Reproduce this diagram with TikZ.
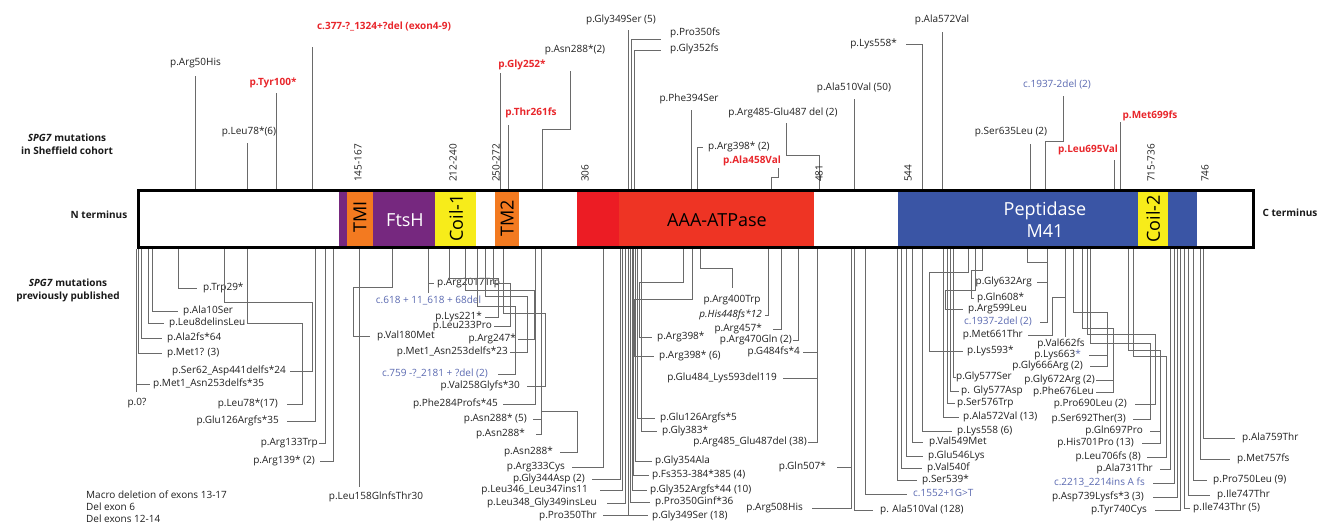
\documentclass[tikz,border=0pt]{standalone}
\usepackage{fontspec}
\setmainfont{Open Sans}
\definecolor{myred}{HTML}{E8262B}
\definecolor{myblue}{HTML}{5A69B0}
\definecolor{cgray}{HTML}{6A6A6A}
\definecolor{dpurple}{HTML}{76287F}
\definecolor{dorange}{HTML}{F37A20}
\definecolor{dyellow}{HTML}{F7EC1A}
\definecolor{dredA}{HTML}{EC1C24}
\definecolor{dredB}{HTML}{EE3424}
\definecolor{dblue}{HTML}{3A55A5}
\tikzset{
 lab/.style={font=\fontsize{10}{12}\selectfont, inner sep=0pt, text height=7.5pt, text depth=2.2pt, text=black!88},
 redlab/.style={text=myred, font=\fontsize{10}{12}\selectfont\bfseries},
 bluelab/.style={text=myblue},
 itlab/.style={font=\fontsize{10}{12}\selectfont\itshape},
 conn/.style={draw=cgray, line width=0.8pt},
 dom/.style={font=\fontsize{18}{22}\selectfont, inner sep=0pt},
 poslab/.style={font=\fontsize{10}{12}\selectfont, rotate=90, anchor=west, inner sep=0pt, text=black!88},
 side/.style={font=\fontsize{10}{13}\selectfont\bfseries, align=center, inner sep=0pt, text=black!90},
}
\newcommand\barT{189}
\newcommand\barB{249}
% top stem: name, style, xs, ye, xv, ytop, cx, cy, text
\newcommand\mutT[9]{%
  \coordinate (#1-b) at (#3,\barT);
  \coordinate (#1-t) at (#5,#6);
  \node[lab,#2] (#1) at (#7,#8) {#9};
  \draw[conn] (#1-b) -- (#3,#4) -- (#5,#4) -- (#1-t);
}
% bottom, text left: name, style, xs, ye, xv, yl, lineend, textright, text
\newcommand\mutL[9]{%
  \coordinate (#1-b) at (#3,\barB);
  \node[lab,anchor=east,#2] (#1) at (#8,#6) {#9};
  \draw[conn,shorten >=#7pt-#8pt] (#1-b) -- (#3,#4) -- (#5,#4) -- (#5,#6) -- (#1.east);
}
% bottom, text right: name, style, xs, ye, xv, yl, lineend, textleft, text
\newcommand\mutR[9]{%
  \coordinate (#1-b) at (#3,\barB);
  \node[lab,anchor=west,#2] (#1) at (#8,#6) {#9};
  \draw[conn,shorten >=#8pt-#7pt] (#1-b) -- (#3,#4) -- (#5,#4) -- (#5,#6) -- (#1.west);
}
\begin{document}
\begin{tikzpicture}[x=1pt,y=-1pt]
\useasboundingbox (0,0) rectangle (1327,523);

% ---------- side labels ----------
\node[side] (shefL) at (67,144.5) {\textit{SPG7} mutations\\in Sheffield cohort};
\node[side] (nterm) at (99,215) {N terminus};
\node[side] (pubL) at (68,290.5) {\textit{SPG7} mutations\\previously published};
\node[side] (cterm) at (1290,213) {C terminus};

% ---------- top (Sheffield cohort) ----------
\mutT{arg50}{}{195}{76}{195}{76}{195.5}{63}{p.Arg50His}
\mutT{tyr100}{redlab}{276}{93}{276}{93}{273}{83}{p.Tyr100*}
\mutT{leu78t}{}{247}{143}{247}{143}{249}{132}{p.Leu78*(6)}
\mutT{c377}{redlab}{312}{47}{312}{47}{384}{27}{c.377-?\_1324+?del (exon4-9)}
\mutT{gly252}{redlab}{500}{73}{500}{73}{522}{65}{p.Gly252*}
\mutT{thr261}{redlab}{508}{125}{508}{125}{531}{113}{p.Thr261fs}
\mutT{asn288t}{}{542}{129}{570}{71}{575}{50}{p.Asn288*(2)}
\mutT{gly349t}{}{628}{30}{628}{30}{621}{20}{p.Gly349Ser (5)}
\mutT{phe394}{}{691}{110}{691}{110}{689}{99}{p.Phe394Ser}
\mutT{ala458}{redlab}{771}{177}{778}{168}{752}{161}{p.Ala458Val}
\mutT{arg485t}{}{819}{155}{786}{123}{783}{113}{p.Arg485-Glu487 del (2)}
\mutT{ala510t}{}{854}{99}{854}{99}{854}{88}{p.Ala510Val (50)}
\mutT{ala572t}{}{942}{32}{942}{32}{942}{20}{p.Ala572Val}
\mutT{ser635}{}{1030}{144}{1030}{144}{1011}{132}{p.Ser635Leu (2)}
\mutT{c1937t}{bluelab}{1045}{141}{1063}{96}{1057}{85}{c.1937-2del (2)}
\mutT{met699}{redlab}{1120}{122}{1120}{122}{1150}{116}{p.Met699fs}
\mutT{leu695}{redlab}{1114}{160}{1114}{160}{1088}{150}{p.Leu695Val}

\coordinate (pro350-b) at (631,\barT);
\coordinate (pro350-e) at (661,39);
\node[lab,anchor=west] (pro350) at (670,33) {p.Pro350fs};
\draw[conn] (pro350-b) -- (631,39) -- (pro350-e);
\coordinate (gly352-b) at (634,\barT);
\coordinate (gly352-e) at (661,50);
\node[lab,anchor=west] (gly352) at (670,49) {p.Gly352fs};
\draw[conn] (gly352-b) -- (634,50) -- (gly352-e);
\coordinate (arg398t-b) at (697,\barT);
\node[lab,anchor=west] (arg398t) at (708,147) {p.Arg398* (2)};
\draw[conn,shorten >=5pt] (arg398t-b) -- (697,147) -- (arg398t.west);
\coordinate (lys558t-b) at (922,\barT);
\node[lab,anchor=east] (lys558t) at (897,44) {p.Lys558*};
\draw[conn,shorten >=9pt] (lys558t-b) -- (922,44) -- (lys558t.east);

% ---------- bottom, N-terminal cluster ----------
\coordinate (p0-b) at (136.5,\barB);
\coordinate (p0-e) at (136.5,392);
\node[lab] (p0) at (137,403) {p.0?};
\draw[conn] (p0-b) -- (p0-e);
\mutR{met1q}{}{138.5}{353}{138.5}{353}{162}{167}{p.Met1? (3)}
\mutR{ala2}{}{141}{338}{141}{338}{162}{167}{p.Ala2fs*64}
\mutR{leu8}{}{148}{323}{148}{323}{164}{169}{p.Leu8delinsLeu}
\mutR{ala10}{}{152}{311}{152}{311}{178}{183}{p.Ala10Ser}
\mutR{trp29}{}{178}{288}{178}{288}{197}{203}{p.Trp29*}
\mutR{met1asn35}{}{136.5}{384}{136.5}{384}{150}{153}{p.Met1\_Asn253delfs*35}
\mutL{ser62}{}{224}{302}{312}{371}{290}{286}{p.Ser62\_Asp441delfs*24}
\mutL{leu78b}{}{247}{323}{302}{404}{287}{278}{p.Leu78*(17)}
\mutL{glu126}{}{315}{421}{315}{421}{287}{279}{p.Glu126Argfs*35}
\mutL{arg133}{}{325}{443}{325}{443}{319}{318}{p.Arg133Trp}
\mutL{arg139}{}{333}{461}{333}{461}{320}{315}{p.Arg139* (2)}

\coordinate (leu158-b) at (359,\barB);
\coordinate (leu158-e) at (359,487);
\node[lab] (leu158) at (376,497) {p.Leu158GlnfsThr30};
\draw[conn] (leu158-b) -- (leu158-e);
\mutR{val180}{}{392}{287}{353}{336}{370}{377}{p.Val180Met}
\coordinate (c618-b) at (428,\barB);
\coordinate (c618-e) at (428,293);
\node[lab,bluelab] (c618) at (428.5,301) {c.618 + 11\_618 + 68del};
\draw[conn] (c618-b) -- (c618-e);
\coordinate (arg2017-j) at (428,283);
\node[lab,anchor=west] (arg2017) at (437,283) {p.Arg2017Trp};
\draw[conn,shorten >=3pt] (arg2017-j) -- (arg2017.west);
\mutL{lys221}{}{449}{278}{498}{317}{485}{482}{p.Lys221*}
\mutL{leu233}{}{493}{283}{510}{326}{494}{492}{p.Leu233Pro}
\mutL{arg247}{}{465}{290}{534}{339}{518}{516}{p.Arg247*}
\mutL{met1asn23}{}{485}{296}{527}{352}{510}{508}{p.Met1\_Asn253delfs*23}
\mutL{c759}{bluelab}{477}{306}{515}{374}{498}{488}{c.759 -?\_2181 + ?del (2)}
\mutL{val258}{}{503}{313}{545}{386}{527}{520}{p.Val258Glyfs*30}
\mutL{phe284}{}{535}{404}{535}{404}{503}{498}{p.Phe284Profs*45}
\mutL{asn288a}{}{541}{419}{541}{419}{533}{527}{p.Asn288* (5)}
\mutL{asn288b}{}{541}{434}{541}{434}{536}{525}{p.Asn288*}
\mutL{asn288c}{}{541}{411}{577}{452}{560}{553}{p.Asn288*}
\mutL{arg333}{}{603}{467}{603}{467}{572}{565}{p.Arg333Cys}
\mutL{gly344}{}{620}{479}{620}{479}{592}{585}{p.Gly344Asp (2)}
\mutL{leu346}{}{622}{490}{622}{490}{600}{588}{p.Leu346\_Leu347ins11}
\mutL{leu348}{}{625}{503}{625}{503}{607}{597}{p.Leu348\_Gly349insLeu}
\mutL{pro350t}{}{628}{515.5}{628}{515.5}{603}{597}{p.Pro350Thr}

% ---------- bottom, AAA cluster ----------
\mutR{gly349b}{}{628}{515.5}{628}{515.5}{648}{652}{p.Gly349Ser (18)}
\mutR{pro350g}{}{630}{502}{630}{502}{650}{655}{p.Pro350Ginf*36}
\mutR{gly352b}{}{632}{490}{632}{490}{647}{650}{p.Gly352Argfs*44 (10)}
\mutR{fs353}{}{633.5}{475}{633.5}{475}{649}{652}{p.Fs353-384*385 (4)}
\mutR{gly354}{}{635}{461}{635}{461}{652}{655}{p.Gly354Ala}
\mutR{gly383}{}{641}{431}{641}{431}{657}{662}{p.Gly383*}
\mutR{glu126b}{}{637}{418}{637}{418}{655}{660}{p.Glu126Argfs*5}
\mutR{arg398a}{}{683}{282}{639}{337}{652}{657}{p.Arg398*}
\mutR{arg398b}{}{692}{299}{634}{356}{654}{659}{p.Arg398* (6)}
\coordinate (arg400-b) at (700,\barB);
\coordinate (arg400-e) at (732,288);
\node[lab] (arg400) at (732,300) {p.Arg400Trp};
\draw[conn] (arg400-b) -- (700,268) -- (732,268) -- (arg400-e);
\mutL{his448}{itlab}{768}{315}{768}{315}{765}{762}{p.His448fs*12}
\mutL{arg457}{}{781}{329}{781}{329}{773}{762}{p.Arg457*}
\mutL{arg470}{}{798}{340}{798}{340}{793}{792}{p.Arg470Gln (2)}
\mutL{g484}{}{817}{352}{817}{352}{803}{800}{p.G484fs*4}
\mutL{glu484}{}{817}{378}{817}{378}{783}{777}{p.Glu484\_Lys593del119}
\mutL{arg485b}{}{817}{442}{817}{442}{808}{807}{p.Arg485\_Glu487del (38)}
\mutL{gln507}{}{851}{467}{851}{467}{837}{826}{p.Gln507*}
\mutL{arg508}{}{851}{508}{851}{508}{812}{803}{p.Arg508His}

% ---------- bottom, 510-600 ----------
\mutR{ala510b}{}{854}{510}{854}{510}{873}{880}{p. Ala510Val (128)}
\mutR{c1552}{bluelab}{865}{494}{865}{494}{907}{913}{c.1552+1G>T}
\mutR{ser539}{}{897}{480}{897}{480}{917}{922}{p.Ser539*}
\mutR{val540}{}{901}{468}{901}{468}{922}{927}{p.Val540f}
\mutR{glu546}{}{906}{456}{906}{456}{923}{928}{p.Glu546Lys}
\mutR{val549}{}{912}{442}{912}{442}{923}{929}{p.Val549Met}
\mutR{lys558b}{}{922}{431}{922}{431}{952}{957}{p.Lys558 (6)}
\mutR{ala572b}{}{943}{417}{943}{417}{959}{963}{p.Ala572Val (13)}
\mutR{ser576}{}{947}{403}{947}{403}{955}{957}{p.Ser576Trp}
\mutR{gly577d}{}{950}{391}{950}{391}{959}{961}{p. Gly577Asp}
\mutR{gly577s}{}{953}{377}{953}{377}{955.5}{956}{p.Gly577Ser}
\mutR{lys593}{}{968}{272}{929}{351}{963}{967}{p.Lys593*}
\mutR{arg599}{}{975}{290}{945}{309}{963}{968}{p.Arg599Leu}
\mutR{gln608}{}{982}{270}{971}{298}{974}{977}{p.Gln608*}

% ---------- bottom, peptidase ----------
\mutL{c1937b}{bluelab}{1047}{322}{1047}{322}{1040}{1032}{c.1937-2del (2)}
\mutL{gly632}{}{1027}{262}{1047}{282}{1037}{1032}{p.Gly632Arg}
\mutL{met661}{}{1065}{297}{1052}{335}{1028}{1023}{p.Met661Thr}
\coordinate (val662-b) at (1065,\barB);
\coordinate (val662-e) at (1065,337);
\node[lab] (val662) at (1061,344) {p.Val662fs};
\draw[conn] (val662-b) -- (val662-e);
\mutL{lys663}{}{1073}{312}{1107}{355}{1089}{1081}{p.Lys663\textcolor{myblue}{*}}
\mutL{gly666}{}{1073}{312}{1107}{366}{1090}{1083}{p.Gly666Arg (2)}
\mutL{gly672}{}{1082}{328}{1113}{380}{1096}{1095}{p.Gly672Arg (2)}
\mutL{phe676}{}{1082}{328}{1113}{392}{1096}{1094}{p.Phe676Leu}
\mutL{pro690}{}{1087}{334}{1155}{404}{1135}{1127}{p.Pro690Leu (2)}
\mutL{ser692}{}{1090}{343}{1150}{419}{1133}{1126}{p.Ser692Ther(3)}
\mutL{gln697}{}{1128}{350}{1160}{431}{1150}{1143}{p.Gln697Pro}
\mutL{his701}{}{1128}{350}{1160}{443}{1142}{1134}{p.His701Pro (13)}
\mutL{leu706}{}{1133}{356}{1166}{457}{1147}{1141}{p.Leu706fs (8)}
\mutL{ala731}{}{1170}{469}{1170}{469}{1160}{1153}{p.Ala731Thr}
\mutL{c2213}{bluelab}{1174}{483}{1174}{483}{1153}{1145}{c.2213\_2214ins A fs}
\mutL{asp739}{}{1177}{497}{1177}{497}{1153}{1144}{p.Asp739Lysfs*3 (3)}
\mutL{tyr740}{}{1180}{510}{1180}{510}{1155}{1147}{p.Tyr740Cys}
\mutR{ile743}{}{1184}{508}{1184}{508}{1190}{1193}{p.Ile743Thr (5)}
\mutR{ile747}{}{1188}{495}{1188}{495}{1210}{1217}{p.Ile747Thr}
\mutR{pro750}{}{1193}{480}{1193}{480}{1207}{1213}{p.Pro750Leu (9)}
\mutR{met757}{}{1200}{459}{1200}{459}{1230}{1237}{p.Met757fs}
\mutR{ala759}{}{1203}{438}{1203}{438}{1235}{1242}{p.Ala759Thr}

% ---------- macro deletions ----------
\node[lab,anchor=west] (macro1) at (86,496) {Macro deletion of exons 13-17};
\node[lab,anchor=west] (macro2) at (86,508) {Del exon 6};
\node[lab,anchor=west] (macro3) at (86,520) {Del exons 12-14};

% ---------- protein bar ----------
\fill[white] (137,\barT) rectangle (1255,\barB);
\fill[dpurple] (339,\barT) rectangle (347,\barB);
\fill[dorange] (347,\barT) rectangle (373,\barB);
\fill[dpurple] (373,\barT) rectangle (435,\barB);
\fill[dyellow] (435,\barT) rectangle (476,\barB);
\fill[dorange] (495,\barT) rectangle (519,\barB);
\fill[dredA] (577,\barT) rectangle (619,\barB);
\fill[dredB] (619,\barT) rectangle (814,\barB);
\fill[dblue] (898,\barT) rectangle (1197,\barB);
\fill[dyellow] (1138,\barT) rectangle (1168,\barB);
\draw[line width=2.8pt] (138.4,190.4) rectangle (1253.6,247.6);

\node[dom,rotate=90] (tmi) at (360,217) {TMI};
\node[dom,text=white] (ftsh) at (405,220) {FtsH};
\node[dom,rotate=90] (coil1) at (456,218) {Coil-1};
\node[dom,rotate=90] (tm2) at (507,218) {TM2};
\node[dom] (aaa) at (717,220) {AAA-ATPase};
\node[dom,text=white,align=center] (pept) at (1045,220) {Peptidase\\M41};
\node[dom,rotate=90] (coil2) at (1153,219) {Coil-2};

% ---------- position labels ----------
\node[poslab] (pos145) at (358,182) {145-167};
\node[poslab] (pos212) at (453,182) {212-240};
\node[poslab] (pos250) at (496,182) {250-272};
\node[poslab] (pos306) at (585,182) {306};
\node[poslab] (pos481) at (819,182) {481};
\node[poslab] (pos544) at (908,182) {544};
\node[poslab] (pos715) at (1151,182) {715-736};
\node[poslab] (pos746) at (1205,182) {746};
\end{tikzpicture}
\end{document}
